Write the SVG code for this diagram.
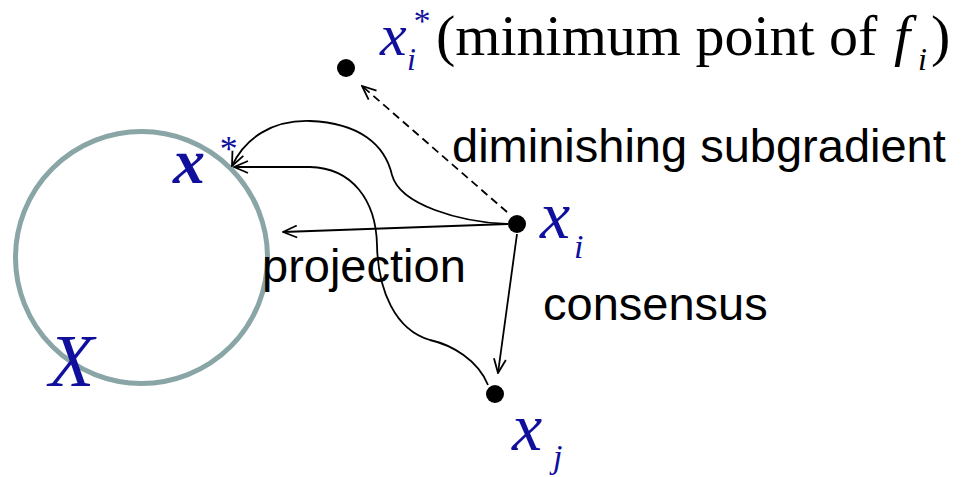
<svg xmlns="http://www.w3.org/2000/svg" width="961" height="477" viewBox="0 0 961 477">
<style>
.lbl{font-family:"Liberation Sans",Arial,sans-serif;font-size:47px;fill:#000}
.math{font-family:"Liberation Serif","Times New Roman",serif;font-style:italic;fill:#10109c}
.serif{font-family:"Liberation Serif","Times New Roman",serif;fill:#000}
.edge{fill:none;stroke:#000;stroke-width:1.8}
.dot{fill:#000}
</style>
<defs>
<marker id="arr" viewBox="0 0 16 14" refX="15" refY="7" markerWidth="16" markerHeight="14" markerUnits="userSpaceOnUse" orient="auto">
<path d="M1,1 L15,7 L1,13" fill="none" stroke="#000" stroke-width="1.8"/>
</marker>
</defs>
<g id="setX">
<circle cx="141.5" cy="257.5" r="126" fill="none" stroke="#8aa5a6" stroke-width="5"/>
<text class="math" x="49" y="386" font-size="74">X</text>
</g>
<g id="xstar">
<text class="math" x="173" y="183" font-size="64" font-weight="bold">x</text>
<text class="math" x="218" y="161" font-size="36" font-style="normal">*</text>
</g>
<g id="connectors">
<line class="edge" x1="507" y1="212" x2="362" y2="86" stroke-dasharray="8,5" marker-end="url(#arr)"/>
<line class="edge" x1="508" y1="224" x2="283" y2="232" marker-end="url(#arr)"/>
<line class="edge" x1="517" y1="234" x2="498" y2="373" marker-end="url(#arr)"/>
<path class="edge" d="M507,224 C460,222 400,205 392,175 C385,145 360,123 310,121 C272,120 245,138 232,166" marker-end="url(#arr)"/>
<path class="edge" d="M488,385 C478,360 452,345 430,340 C395,330 378,290 377,245 C376,200 352,168 310,167 L234,167" marker-end="url(#arr)"/>
</g>
<g id="xistar">
<circle class="dot" cx="346" cy="68" r="9"/>
<text class="math" x="380" y="55" font-size="60">x</text>
<text class="math" x="407" y="70" font-size="32">i</text>
<text class="math" x="412" y="32" font-size="34" font-style="normal">*</text>
<text class="serif" x="436" y="55" font-size="58">(minimum point of</text>
<text class="serif" x="894" y="55" font-size="58" font-style="italic">f</text>
<text class="serif" x="918" y="70" font-size="32" font-style="italic">i</text>
<text class="serif" x="931" y="55" font-size="58">)</text>
</g>
<g id="xi">
<circle class="dot" cx="517" cy="224" r="9"/>
<text class="math" x="540" y="238" font-size="68">x</text>
<text class="math" x="574" y="258" font-size="34">i</text>
</g>
<g id="xj">
<circle class="dot" cx="495" cy="394" r="9"/>
<text class="math" x="512" y="450" font-size="68">x</text>
<text class="math" x="553" y="468" font-size="34">j</text>
</g>
<g id="labels">
<text class="lbl" x="452" y="162" font-size="48.5">diminishing subgradient</text>
<text class="lbl" x="262" y="282">projection</text>
<text class="lbl" x="543" y="320">consensus</text>
</g>
</svg>
